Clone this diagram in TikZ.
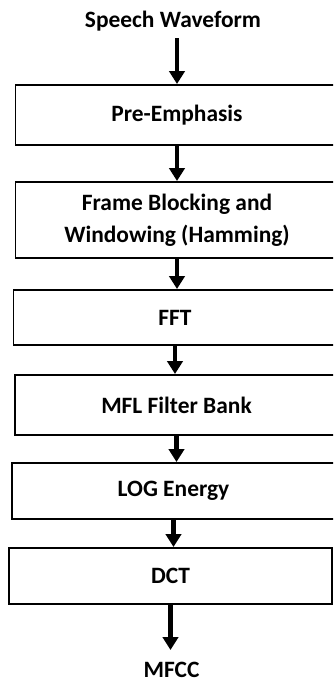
\documentclass[tikz,border=0pt]{standalone}
\usepackage{fontspec}
\setmainfont{Carlito}
\usetikzlibrary{arrows.meta,calc,positioning}

\begin{document}
\begin{tikzpicture}[x=0.03cm,y=-0.03cm,
  blk/.style={draw,line width=1.7pt,minimum width=323*0.03cm,minimum height=#1*0.03cm,inner sep=0pt,align=center},
  lbl/.style={inner sep=0pt,font=\bfseries},
  flow/.style={-{Triangle[width=13pt,length=11pt]},line width=4.2pt}]
\useasboundingbox (0,0) rectangle (333,682);
\clip (0,0) rectangle (333,682);
\fontsize{20}{27}\selectfont\bfseries
% blocks, pixel positions of the reference
\node[lbl] (wave) at (173,21) {Speech Waveform};
\node[blk=60] (pre) at (177,115) {Pre-Emphasis};
\node[blk=76] (frame) at (177,220) {Frame Blocking and\\Windowing (Hamming)};
\node[blk=55] (fft) at (175,317.5) {FFT};
\node[blk=60] (mfl) at (176.5,405) {MFL Filter Bank};
\node[blk=56] (log) at (173.5,491) {LOG Energy};
\node[blk=56] (dct) at (170.5,576) {DCT};
\node[lbl] (mfcc) at (171.5,670) {MFCC};
% arrows
\draw[flow] ($(pre.north |- wave.south)+(0,7)$) -- (pre.north);
\draw[flow] (pre.south) -- (frame.north);
\draw[flow] (frame.south) -- (frame.south |- fft.north);
\draw[flow] (fft.south) -- (fft.south |- mfl.north);
\draw[flow] (mfl.south) -- (mfl.south |- log.north);
\draw[flow] (log.south) -- (log.south |- dct.north);
\draw[flow] (dct.south) -- ($(dct.south |- mfcc.north)-(0,12)$);
\end{tikzpicture}
\end{document}
